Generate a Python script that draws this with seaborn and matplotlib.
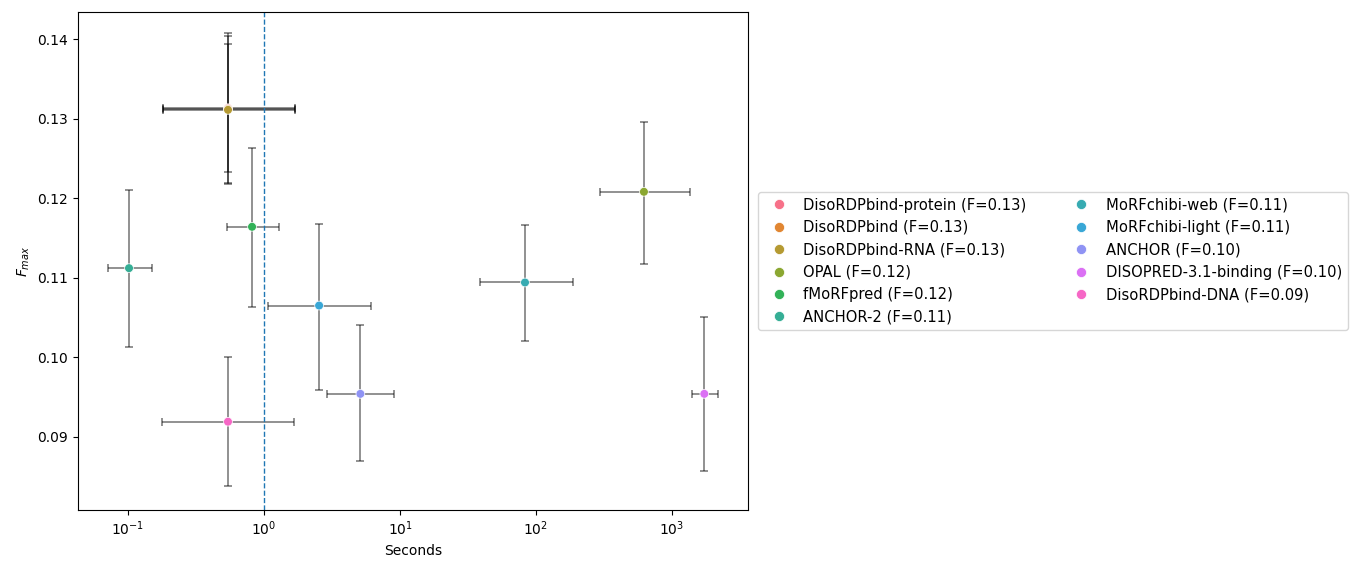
import numpy as np
import pandas as pd
import matplotlib
matplotlib.use("Agg")
import matplotlib.pyplot as plt
import seaborn as sns

methods = ["DisoRDPbind-protein", "DisoRDPbind", "DisoRDPbind-RNA", "OPAL", "fMoRFpred",
           "ANCHOR-2", "MoRFchibi-web", "MoRFchibi-light", "ANCHOR",
           "DISOPRED-3.1-binding", "DisoRDPbind-DNA"]
seconds = [0.543, 0.543, 0.543, 622, 0.816, 0.1016, 83, 2.54, 5.11, 1729, 0.543]
seconds_lo = [0.180, 0.180, 0.180, 296, 0.535, 0.0713, 38.7, 1.076, 2.92, 1403, 0.178]
seconds_hi = [1.68, 1.68, 1.68, 1356, 1.29, 0.150, 186, 6.12, 9.03, 2178, 1.67]
fmax = [0.1313, 0.1312, 0.1311, 0.1208, 0.1164, 0.1112, 0.1094, 0.1065, 0.0954, 0.0954, 0.0919]
fmax_lo = [0.1233, 0.1219, 0.1218, 0.1117, 0.1063, 0.1013, 0.1020, 0.0959, 0.0869, 0.0857, 0.0838]
fmax_hi = [0.1408, 0.1404, 0.1394, 0.1296, 0.1263, 0.1210, 0.1166, 0.1168, 0.1040, 0.1051, 0.1000]

labels = [f"{m} (F={f:.2f})" for m, f in zip(methods, fmax)]
df = pd.DataFrame({"Seconds": seconds, "Fmax": fmax, "Method": labels,
                   "slo": seconds_lo, "shi": seconds_hi, "flo": fmax_lo, "fhi": fmax_hi})

fig = plt.figure(figsize=(13.56, 5.61), dpi=100)
ax = fig.add_axes([0.0575, 0.0909, 0.4941, 0.8877])

xerr = np.array([df.Seconds - df.slo, df.shi - df.Seconds])
yerr = np.array([df.Fmax - df.flo, df.fhi - df.Fmax])
ax.errorbar(df.Seconds, df.Fmax, xerr=xerr, yerr=yerr, fmt="none",
            ecolor="k", alpha=0.55, elinewidth=1.1, capsize=3, capthick=1.1, zorder=1)

palette = sns.color_palette("husl", len(labels))
sns.scatterplot(data=df, x="Seconds", y="Fmax", hue="Method", hue_order=labels,
                palette=palette, ax=ax, s=40, zorder=3)
ax.axvline(1, color="#1f77b4", linestyle="--", linewidth=1)
ax.set_xscale("log")
ax.set_xlim(0.0428, 3622)
ax.set_ylim(0.0808, 0.1434)
ax.xaxis.set_minor_locator(matplotlib.ticker.NullLocator())
ax.set_xlabel("Seconds")
ax.set_ylabel("$F_{max}$")
ax.legend(loc="center left", bbox_to_anchor=(1.004, 0.5), ncol=2, fontsize=10.65,
          markerscale=1.15, handletextpad=0.65, columnspacing=2.7)
fig.savefig("out.png", dpi=100)
